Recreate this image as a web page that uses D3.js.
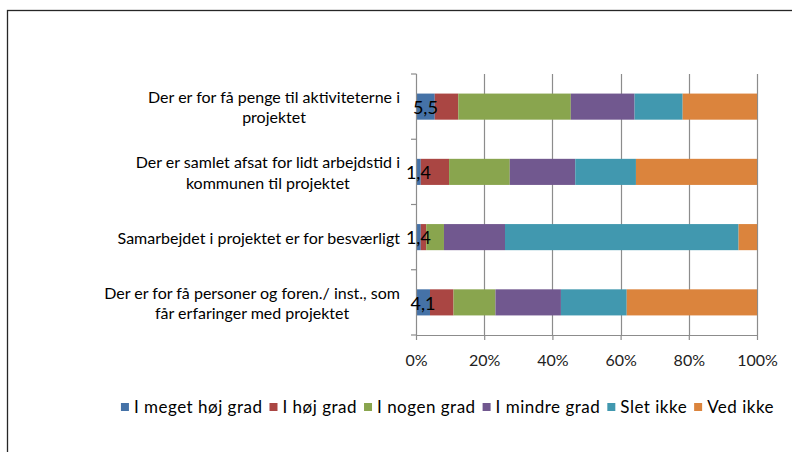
<!DOCTYPE html>
<html><head><meta charset="utf-8">
<script src="https://cdn.jsdelivr.net/npm/d3@7"></script>
<style>body{margin:0;background:#fff;} svg{display:block;}</style>
</head><body>
<svg id="chart" width="792" height="452"></svg>
<script>
const categories = [
  "Der er for få penge til aktiviteterne i projektet",
  "Der er samlet afsat for lidt arbejdstid i kommunen til projektet",
  "Samarbejdet i projektet er for besværligt",
  "Der er for få personer og foren./ inst., som får erfaringer med projektet"
];
const categoryLines = [
  ["Der er for få penge til aktiviteterne i", "projektet"],
  ["Der er samlet afsat for lidt arbejdstid i", "kommunen til projektet"],
  ["Samarbejdet i projektet er for besværligt"],
  ["Der er for få personer og foren./ inst., som", "får erfaringer med projektet"]
];
const seriesNames = ["I meget høj grad", "I høj grad", "I nogen grad", "I mindre grad", "Slet ikke", "Ved ikke"];
const megetHoj = [5.5, 1.4, 1.4, 4.1];
const hoj      = [6.9, 8.3, 1.6, 6.9];
const nogen    = [33.0, 17.8, 5.2, 12.3];
const mindre   = [18.7, 19.2, 17.9, 19.2];
const sletIkke = [14.1, 17.8, 68.5, 19.3];
const vedIkke  = [21.8, 35.5, 5.4, 38.2];
const seriesColors = ["#4572A7", "#AA4643", "#89A54E", "#71588F", "#4198AF", "#DB843D"];
const tickValues = [0, 0.2, 0.4, 0.6, 0.8, 1];
const tickLabels = ["0%", "20%", "40%", "60%", "80%", "100%"];

const seriesValues = [megetHoj, hoj, nogen, mindre, sletIkke, vedIkke];
const table = categories.map((c, i) => {
  const row = { cat: c };
  seriesNames.forEach((s, j) => row[s] = seriesValues[j][i]);
  return row;
});

const FONT = "Lato, 'Open Sans', sans-serif";
const svg = d3.select("#chart");

// outer frame
svg.append("rect").attr("x", 7.5).attr("y", 10.5).attr("width", 800).attr("height", 460)
  .attr("fill", "none").attr("stroke", "#262626").attr("stroke-width", 1.3);

const x = d3.scaleLinear().domain([0, 1]).range([416, 757]);
const y = d3.scaleBand().domain(categories).range([74, 335]).paddingInner(0.6).paddingOuter(0.3);

const stack = d3.stack().keys(seriesNames).offset(d3.stackOffsetExpand);
const stacked = stack(table);

// gridlines
svg.append("g").selectAll("line").data(tickValues.slice(1)).join("line")
  .attr("x1", d => Math.round(x(d)) + 0.5).attr("x2", d => Math.round(x(d)) + 0.5)
  .attr("y1", 74).attr("y2", 335)
  .attr("stroke", "#8c8c8c").attr("stroke-width", 1.2);

// bars
svg.append("g").selectAll("g").data(stacked).join("g")
  .attr("fill", (d, i) => seriesColors[i])
  .selectAll("rect").data(d => d).join("rect")
  .attr("x", d => x(d[0]))
  .attr("width", d => x(d[1]) - x(d[0]))
  .attr("y", d => y(d.data.cat))
  .attr("height", y.bandwidth());

// x axis
const xAxis = d3.axisBottom(x).tickValues(tickValues)
  .tickFormat((d, i) => tickLabels[i]).tickSizeInner(5).tickSizeOuter(0).tickPadding(15);
const gx = svg.append("g").attr("transform", "translate(0,335)").call(xAxis);
gx.select(".domain").attr("stroke", "#8c8c8c").attr("stroke-width", 1.2);
gx.selectAll(".tick line").attr("stroke", "#8c8c8c").attr("stroke-width", 1.2);
gx.selectAll(".tick text").attr("font-family", FONT).attr("font-size", 16).attr("fill", "#222");

// y axis (category boundaries)
const gy = svg.append("g");
gy.append("line").attr("x1", 416.5).attr("x2", 416.5).attr("y1", 74).attr("y2", 335)
  .attr("stroke", "#8c8c8c").attr("stroke-width", 1.2);
const bounds = d3.range(categories.length + 1).map(i => 74 + i * y.step());
gy.selectAll("line.t").data(bounds).join("line").attr("class", "t")
  .attr("x1", 411).attr("x2", 416.5).attr("y1", d => d).attr("y2", d => d)
  .attr("stroke", "#8c8c8c").attr("stroke-width", 1.2);

// category labels: block right-aligned, lines centered
const lh = 20.5;
categories.forEach((c, i) => {
  const lines = categoryLines[i];
  const cy = y(c) + y.bandwidth() / 2 + 1;
  const g = svg.append("g");
  const texts = lines.map((ln, k) => g.append("text")
    .attr("font-family", FONT).attr("font-size", 16).attr("fill", "#000")
    .attr("text-anchor", "middle").attr("dy", "0.35em")
    .attr("y", cy + (k - (lines.length - 1) / 2) * lh).text(ln));
  const w = d3.max(texts, t => t.node().getComputedTextLength());
  texts.forEach(t => t.attr("x", 400 - w / 2));
});

// data labels for first series
svg.append("g").selectAll("text").data(stacked[0]).join("text")
  .attr("x", d => (x(d[0]) + x(d[1])) / 2)
  .attr("y", d => y(d.data.cat) + y.bandwidth() / 2 + 1)
  .attr("dy", "0.35em").attr("text-anchor", "middle")
  .attr("font-family", FONT).attr("font-size", 18).attr("fill", "#000")
  .text((d, i) => d3.format(".1f")(megetHoj[i]).replace(".", ","));

// legend
const lg = svg.append("g");
let cx = 0;
seriesNames.forEach((s, i) => {
  const g = lg.append("g");
  g.append("rect").attr("x", 0).attr("y", -4).attr("width", 8).attr("height", 8).attr("fill", seriesColors[i]);
  const t = g.append("text").attr("x", 13).attr("dy", "0.35em")
    .attr("font-family", FONT).attr("font-size", 17).attr("letter-spacing", "0.5px")
    .attr("fill", "#000").text(s);
  const w = t.node().getComputedTextLength();
  g.attr("transform", `translate(${cx},0)`);
  cx += 13 + w + 7;
});
const total = cx - 7;
lg.attr("transform", `translate(${(118 + 777) / 2 - total / 2},407)`);
</script>
</body></html>
